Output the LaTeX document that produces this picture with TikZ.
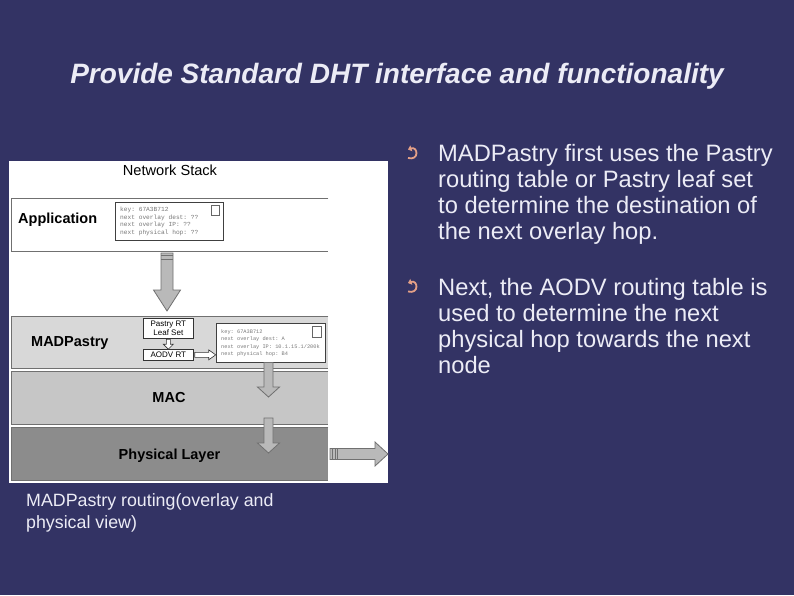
\documentclass[tikz,border=0pt]{standalone}
\usepackage{fontspec}
\setmainfont{Liberation Sans}
\setmonofont{Liberation Mono}
\usetikzlibrary{arrows.meta}
\definecolor{bg}{RGB}{51,51,100}
\definecolor{fg}{RGB}{236,236,246}
\definecolor{bul}{RGB}{228,160,135}
\definecolor{bandA}{RGB}{216,216,216}
\definecolor{bandB}{RGB}{198,198,198}
\definecolor{bandC}{RGB}{140,140,140}
\definecolor{edgecol}{RGB}{112,112,112}
\definecolor{arrowfill}{RGB}{185,185,185}
\definecolor{tabtxtcol}{RGB}{120,120,120}
\begin{document}
\begin{tikzpicture}[x=1pt,y=-1pt,
  band/.style={anchor=north west, minimum width=317pt, minimum height=#1, inner sep=0pt, draw=none},
  bandline/.style={draw=edgecol, line width=0.8pt},
  layerlabel/.style={font=\fontsize{14.5}{17}\selectfont\bfseries, text=black, inner sep=0pt},
  tablebox/.style={draw=black!75, fill=white, line width=0.7pt, anchor=north west, inner sep=0pt},
  tabtxt/.style={font=\fontsize{#1}{7.5}\selectfont\ttfamily, text=tabtxtcol, anchor=north west, align=left, inner sep=0pt},
  smallsq/.style={draw=black!60, line width=0.6pt, fill=white},
  rtbox/.style={draw=black!80, fill=white, line width=0.7pt, anchor=north west, inner sep=0pt, font=\fontsize{8}{9}\selectfont, align=center},
  fatarrow/.style={fill=arrowfill, draw=edgecol, line width=0.8pt, line join=miter},
  hollowarrow/.style={fill=white, draw=black!80, line width=0.6pt},
  bodytxt/.style={font=\fontsize{23.7}{26}\selectfont, text=fg, anchor=base west, inner sep=0pt},
  captxt/.style={font=\fontsize{17.8}{21}\selectfont, text=fg, anchor=base west, inner sep=0pt},
  bulletmark/.style={draw=bul, line width=1.8pt, {Triangle[length=3.5pt,width=6pt]}-}
]
\useasboundingbox (0,0) rectangle (794,595);
\fill[bg] (0,0) rectangle (794,595);

% title
\node[font=\fontsize{28}{33}\selectfont\bfseries\itshape, text=fg, anchor=base, inner sep=0pt] (title) at (397,83) {Provide Standard DHT interface and functionality};

% white picture panel
\node[anchor=north west, minimum width=379pt, minimum height=322pt, fill=white, inner sep=0pt] (panel) at (9,161) {};
\node[font=\fontsize{14.6}{17}\selectfont, anchor=base, inner sep=0pt] (ns) at (170,175) {Network Stack};

% layer bands
\node[band=53pt, fill=white] (app) at (11,198) {};
\node[band=52pt, fill=bandA] (mad) at (11,316) {};
\node[band=53pt, fill=bandB] (mac) at (11,371) {};
\node[band=53pt, fill=bandC] (phy) at (11,427) {};
\foreach \b in {app,mad,mac,phy}{
  \draw[bandline] (\b.north east) -- (\b.north west) -- (\b.south west) -- (\b.south east);
}

\node[layerlabel, anchor=base west] (applbl) at (18,223) {Application};
\node[layerlabel, anchor=base west] (madlbl) at (31,346) {MADPastry};
\node[layerlabel, anchor=base] (maclbl) at (169,402) {MAC};
\node[layerlabel, anchor=base] (phylbl) at (169.5,459) {Physical Layer};

% application table
\node[tablebox, minimum width=108pt, minimum height=38pt] (tabA) at (115,202) {};
\node[smallsq, anchor=north east, minimum width=8pt, minimum height=10pt, inner sep=0pt] (sqA) at (220,205) {};
\node[tabtxt=6.2] (txtA) at (120,207) {key: 67A3B712\\next overlay dest: ??\\next overlay IP: ??\\next physical hop: ??};

% MADPastry boxes
\node[rtbox, minimum width=50pt, minimum height=20pt] (pastry) at (143,318) {Pastry RT\\Leaf Set};
\node[rtbox, minimum width=50pt, minimum height=11pt] (aodv) at (143,349) {AODV RT};
\node[tablebox, minimum width=109pt, minimum height=39pt] (tabB) at (216,323) {};
\node[smallsq, anchor=north east, minimum width=9pt, minimum height=11pt, inner sep=0pt] (sqB) at (322,326) {};
\node[tabtxt=5.3] (txtB) at (221,329) {key: 67A3B712\\next overlay dest: A\\next overlay IP: 10.1.15.1/200k\\next physical hop: B4};

% hollow arrows
\draw[hollowarrow] (pastry.south) ++(-2,0.5) -- ++(0,5) -- ++(-3,0) -- ++(5,5) -- ++(5,-5) -- ++(-3,0) -- ++(0,-5) -- cycle;
\draw[hollowarrow] (aodv.east) ++(1,-2.5) -- ++(14,0) -- ++(0,-2.5) -- ++(7,5) -- ++(-7,5) -- ++(0,-2.5) -- ++(-14,0) -- cycle;

% big down arrow
\coordinate (bigtop) at (167,253);
\draw[fatarrow] (bigtop) ++(-6,0) -- ++(0,37) -- ++(-7.5,0) -- ++(13.5,21) -- ++(13.5,-21) -- ++(-7.5,0) -- ++(0,-37) -- cycle;
\draw[edgecol, line width=0.8pt] (bigtop) ++(-6,2.8) -- ++(12,0);
\draw[edgecol, line width=0.8pt] (bigtop) ++(-6,6.2) -- ++(12,0);

% small down arrows
\coordinate (sA) at (268.5,362.5);
\draw[fatarrow] (sA) ++(-4.5,0) -- ++(0,24.5) -- ++(-6.5,0) -- ++(11,10) -- ++(11,-10) -- ++(-6.5,0) -- ++(0,-24.5) -- cycle;
\coordinate (sB) at (268.5,418);
\draw[fatarrow] (sB) ++(-4.5,0) -- ++(0,25) -- ++(-6.5,0) -- ++(11,10) -- ++(11,-10) -- ++(-6.5,0) -- ++(0,-25) -- cycle;

% right arrow
\coordinate (rA) at (330,454);
\draw[fatarrow] (rA) ++(0,-5.5) -- ++(45,0) -- ++(0,-6.5) -- ++(13,12) -- ++(-13,12) -- ++(0,-6.5) -- ++(-45,0) -- cycle;
\foreach \dx in {2.5,5,7.5}{
  \draw[edgecol, line width=0.7pt] (rA) ++(\dx,-5.5) -- ++(0,11);
}

% caption
\node[captxt] (cap1) at (26,506) {MADPastry routing(overlay and};
\node[captxt] (cap2) at (26,528) {physical view)};

% bullets
\draw[bulletmark] (408,149.5) .. controls (418,146) and (419.5,161) .. (408,158);
\draw[bulletmark] (408,283) .. controls (418,279.5) and (419.5,294.5) .. (408,291.5);

% bullet texts
\node[bodytxt] (p1a) at (438,161.5) {MADPastry first uses the Pastry};
\node[bodytxt] (p1b) at (438,187.5) {routing table or Pastry leaf set};
\node[bodytxt] (p1c) at (438,213.5) {to determine the destination of};
\node[bodytxt] (p1d) at (438,239.5) {the next overlay hop.};
\node[bodytxt] (p2a) at (438,295) {Next, the AODV routing table is};
\node[bodytxt] (p2b) at (438,321) {used to determine the next};
\node[bodytxt] (p2c) at (438,347) {physical hop towards the next};
\node[bodytxt] (p2d) at (438,373) {node};
\end{tikzpicture}
\end{document}
